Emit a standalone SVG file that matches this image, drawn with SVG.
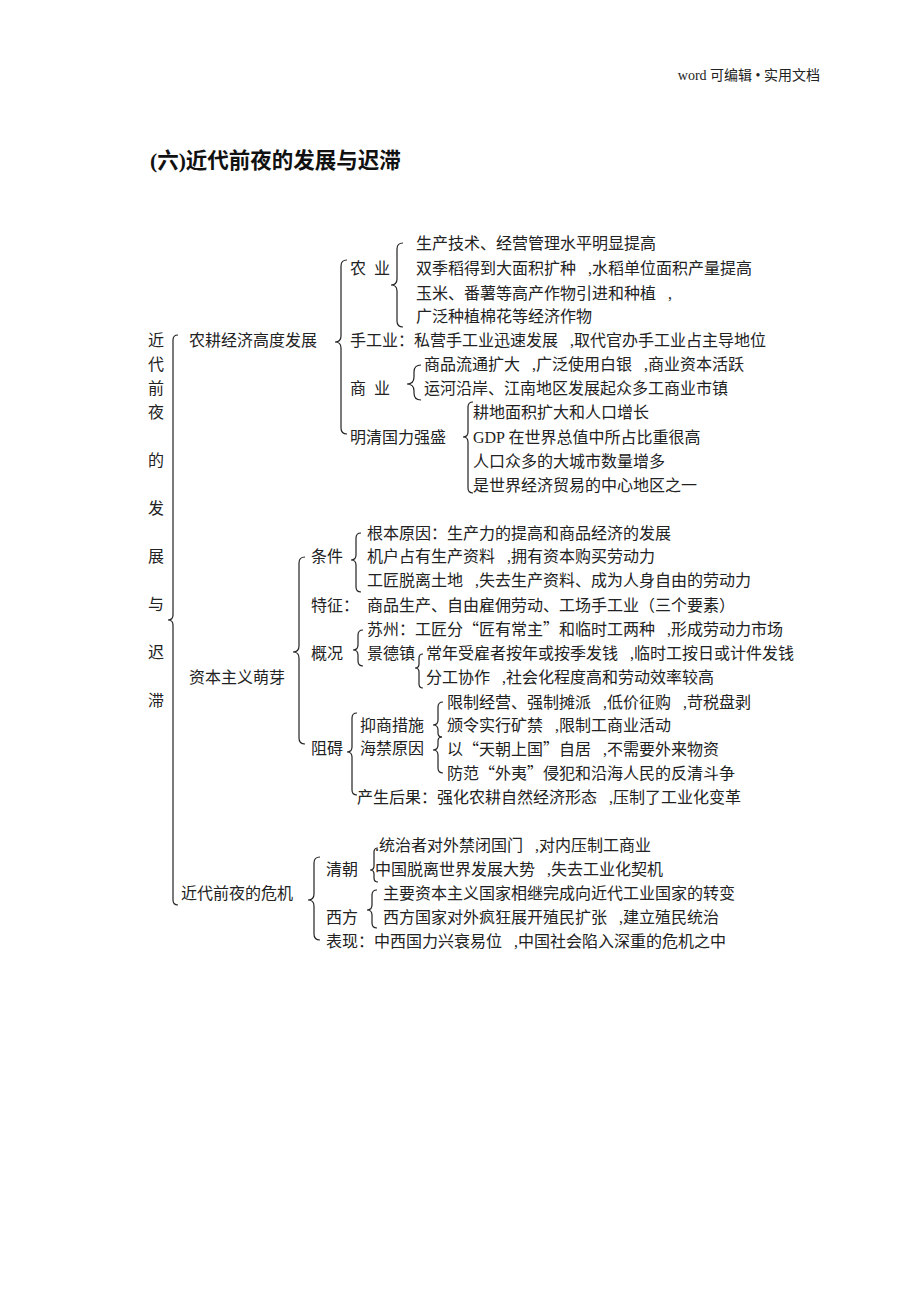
<svg xmlns="http://www.w3.org/2000/svg" width="920" height="1302" viewBox="0 0 920 1302">
<style>
.t{font-family:"Liberation Serif","Noto Sans CJK SC",serif;font-size:16px;fill:#222;word-spacing:8px}
.s{word-spacing:4px}
.g{word-spacing:0}
.q{font-family:"Noto Sans CJK SC",sans-serif}
.h{font-family:"Liberation Serif","Noto Sans CJK SC",serif;font-size:14px;fill:#222}
.ti{font-family:"Liberation Serif","Noto Sans CJK SC",serif;font-size:21.5px;font-weight:bold;fill:#111}
.v{text-anchor:middle}
.b{fill:none;stroke:#222;stroke-width:1.2}
</style>
<rect width="920" height="1302" fill="#fff"/>
<text class="h" x="820" y="80" text-anchor="end">word 可编辑 • 实用文档</text>
<text class="ti" x="150" y="168">(六)近代前夜的发展与迟滞</text>

<g id="root">
<text class="t v" x="156" y="346">近</text>
<text class="t v" x="156" y="370">代</text>
<text class="t v" x="156" y="394">前</text>
<text class="t v" x="156" y="418">夜</text>
<text class="t v" x="156" y="466">的</text>
<text class="t v" x="156" y="514">发</text>
<text class="t v" x="156" y="562">展</text>
<text class="t v" x="156" y="610">与</text>
<text class="t v" x="156" y="658">迟</text>
<text class="t v" x="156" y="706">滞</text>
</g>

<g id="n-agri">
<text class="t" x="189" y="346">农耕经济高度发展</text>
</g>
<g id="n-nongye">
<text class="t s" x="350" y="274">农 业</text>
<text class="t" x="416" y="249">生产技术、经营管理水平明显提高</text>
<text class="t" x="416" y="274">双季稻得到大面积扩种 ,水稻单位面积产量提高</text>
<text class="t" x="416" y="299">玉米、番薯等高产作物引进和种植 ,</text>
<text class="t" x="416" y="322">广泛种植棉花等经济作物</text>
</g>
<g id="n-shougong">
<text class="t" x="350" y="346">手工业：私营手工业迅速发展 ,取代官办手工业占主导地位</text>
</g>
<g id="n-shangye">
<text class="t s" x="350" y="394">商 业</text>
<text class="t" x="424" y="370">商品流通扩大 ,广泛使用白银 ,商业资本活跃</text>
<text class="t" x="424" y="394">运河沿岸、江南地区发展起众多工商业市镇</text>
</g>
<g id="n-mingqing">
<text class="t" x="350" y="443">明清国力强盛</text>
<text class="t" x="473" y="418">耕地面积扩大和人口增长</text>
<text class="t g" x="473" y="443">GDP 在世界总值中所占比重很高</text>
<text class="t" x="473" y="467">人口众多的大城市数量增多</text>
<text class="t" x="473" y="491">是世界经济贸易的中心地区之一</text>
</g>

<g id="n-capital">
<text class="t" x="189" y="683">资本主义萌芽</text>
</g>
<g id="n-tiaojian">
<text class="t" x="311" y="562">条件</text>
<text class="t" x="367" y="539">根本原因：生产力的提高和商品经济的发展</text>
<text class="t" x="367" y="562">机户占有生产资料 ,拥有资本购买劳动力</text>
<text class="t" x="367" y="586">工匠脱离土地 ,失去生产资料、成为人身自由的劳动力</text>
</g>
<g id="n-tezheng">
<text class="t" x="311" y="611">特征：</text>
<text class="t" x="367" y="611">商品生产、自由雇佣劳动、工场手工业（三个要素）</text>
</g>
<g id="n-gaikuang">
<text class="t" x="311" y="659">概况</text>
<text class="t" x="367" y="635">苏州：工匠分<tspan class="q">“</tspan>匠有常主<tspan class="q">”</tspan>和临时工两种 ,形成劳动力市场</text>
<text class="t" x="367" y="659">景德镇</text>
<text class="t" x="426" y="659">常年受雇者按年或按季发钱 ,临时工按日或计件发钱</text>
<text class="t" x="426" y="683">分工协作 ,社会化程度高和劳动效率较高</text>
</g>
<g id="n-zuai">
<text class="t" x="311" y="754">阻碍</text>
<text class="t" x="360" y="731">抑商措施</text>
<text class="t" x="360" y="754">海禁原因</text>
<text class="t" x="447" y="708">限制经营、强制摊派 ,低价征购 ,苛税盘剥</text>
<text class="t" x="447" y="731">颁令实行矿禁 ,限制工商业活动</text>
<text class="t" x="447" y="755">以<tspan class="q">“</tspan>天朝上国<tspan class="q">”</tspan>自居 ,不需要外来物资</text>
<text class="t" x="447" y="779">防范<tspan class="q">“</tspan>外夷<tspan class="q">”</tspan>侵犯和沿海人民的反清斗争</text>
<text class="t" x="357" y="803">产生后果：强化农耕自然经济形态 ,压制了工业化变革</text>
</g>

<g id="n-crisis">
<text class="t" x="181" y="899">近代前夜的危机</text>
</g>
<g id="n-qing">
<text class="t" x="326" y="875">清朝</text>
<text class="t" x="375" y="851">.统治者对外禁闭国门 ,对内压制工商业</text>
<text class="t" x="375" y="875">中国脱离世界发展大势 ,失去工业化契机</text>
</g>
<g id="n-west">
<text class="t" x="326" y="923">西方</text>
<text class="t" x="383" y="899">主要资本主义国家相继完成向近代工业国家的转变</text>
<text class="t" x="383" y="923">西方国家对外疯狂展开殖民扩张 ,建立殖民统治</text>
</g>
<g id="n-biaoxian">
<text class="t" x="326" y="947">表现：中西国力兴衰易位 ,中国社会陷入深重的危机之中</text>
</g>

<g id="connectors">
<path class="b" d="M178 335 Q173 335 173 340 L173 615 Q173 620 168 620 Q173 620 173 625 L173 900 Q173 905 178 905"/>
<path class="b" d="M347 260 Q341 260 341 266 L341 336 Q341 342 335 342 Q341 342 341 348 L341 428 Q341 434 347 434"/>
<path class="b" d="M403 243 Q397 243 397 249 L397 279 Q397 285 391 285 Q397 285 397 291 L397 321 Q397 327 403 327"/>
<path class="b" d="M421 365 Q414 365 414 372 L414 377 Q414 384 407 384 Q414 384 414 391 L414 393 Q414 400 421 400"/>
<path class="b" d="M473 402 Q468 402 468 407 L468 432 Q468 437 463 437 Q468 437 468 442 L468 488 Q468 493 473 493"/>
<path class="b" d="M305 557 Q299 557 299 563 L299 646 Q299 652 293 652 Q299 652 299 658 L299 738 Q299 744 305 744"/>
<path class="b" d="M361 533 Q356 533 356 538 L356 555 Q356 560 351 560 Q356 560 356 565 L356 587 Q356 592 361 592"/>
<path class="b" d="M363 630 Q358 630 358 635 L358 645 Q358 650 353 650 Q358 650 358 655 L358 661 Q358 666 363 666"/>
<path class="b" d="M423 654 Q419 654 419 658 L419 664 Q419 668 415 668 Q419 668 419 672 L419 684 Q419 688 423 688"/>
<path class="b" d="M357 713 Q352 713 352 718 L352 747 Q352 752 347 752 Q352 752 352 757 L352 790 Q352 795 357 795"/>
<path class="b" d="M443 702 Q438 702 438 707 L438 720 Q438 725 433 725 Q438 725 438 730 L438 733 Q438 737 442 737"/>
<path class="b" d="M442 737 Q438 737 438 741 L438 745 Q438 750 433 750 Q438 750 438 755 L438 768 Q438 773 443 773"/>
<path class="b" d="M320 857 Q314 857 314 863 L314 894 Q314 900 308 900 Q314 900 314 906 L314 934 Q314 940 320 940"/>
<path class="b" d="M378 848 Q374 848 374 852 L374 866 Q374 870 370 870 Q374 870 374 874 L374 878 Q374 882 378 882"/>
<path class="b" d="M377 890 Q372 890 372 895 L372 905 Q372 910 367 910 Q372 910 372 915 L372 923 Q372 928 377 928"/>
</g>
</svg>
